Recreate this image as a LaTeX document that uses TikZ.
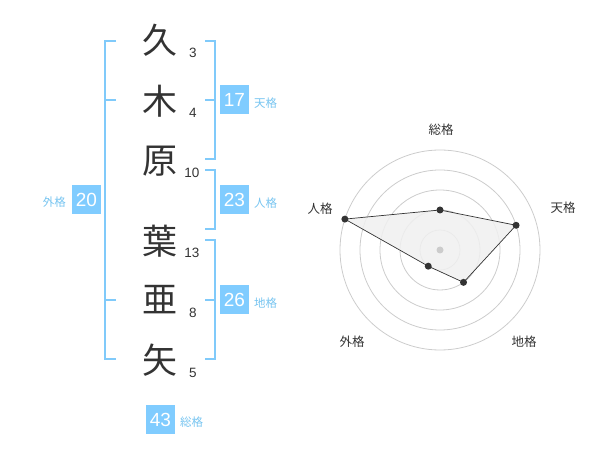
\documentclass[tikz,border=0pt]{standalone}
\usepackage{fontspec}
\setmainfont{Liberation Sans}
\newfontfamily\jp{Noto Sans CJK JP}
\definecolor{bbox}{RGB}{128,204,255}
\definecolor{bline}{RGB}{128,202,250}
\definecolor{btext}{RGB}{118,196,240}
\definecolor{ink}{RGB}{51,51,51}
\definecolor{ring}{RGB}{204,204,204}
\definecolor{polyfill}{RGB}{240,240,240}
\begin{document}
\begin{tikzpicture}[x=1pt,y=-1pt,
  kanji/.style={font=\jp\fontsize{35}{35}\selectfont, text=ink, inner sep=0pt},
  num/.style={font=\fontsize{13.5}{13.5}\selectfont, text=ink, inner sep=0pt},
  box/.style={fill=bbox, text=white, minimum size=29pt, inner sep=0pt, font=\fontsize{19}{19}\selectfont},
  lab/.style={font=\jp\fontsize{11.5}{11.5}\selectfont, text=btext, inner sep=0pt},
  rlab/.style={font=\jp\fontsize{12.5}{12.5}\selectfont, text=ink, inner sep=0pt},
  brk/.style={draw=bline, line width=2pt},
  dot/.style={circle, fill=ink, inner sep=0pt, minimum size=7pt}
]
\useasboundingbox (0,0) rectangle (600,470);

% kanji
\node[kanji] (k1) at (160,40) {久};
\node[kanji] (k2) at (160,101) {木};
\node[kanji] (k3) at (160,161) {原};
\node[kanji] (k4) at (160,241) {葉};
\node[kanji] (k5) at (160,300) {亜};
\node[kanji] (k6) at (160,360) {矢};

% stroke numbers
\node[num] (n1) at (193,53) {3};
\node[num] (n2) at (193,113) {4};
\node[num] (n3) at (192,173) {10};
\node[num] (n4) at (192,253) {13};
\node[num] (n5) at (193,313) {8};
\node[num] (n6) at (193,373) {5};

% left bracket (外格)
\draw[brk] (116,41) -- (105,41) -- (105,359) -- (116,359);
\draw[brk] (105,100) -- (116,100);
\draw[brk] (105,300) -- (116,300);

% right brackets
\draw[brk] (205,41) -- (215,41) -- (215,159) -- (205,159);
\draw[brk] (205,100) -- (215,100);
\draw[brk] (205,170) -- (215,170) -- (215,229) -- (205,229);
\draw[brk] (205,240) -- (215,240) -- (215,359) -- (205,359);
\draw[brk] (205,300) -- (215,300);

% boxes and labels
\node[box] (b20) at (86.5,200) {20};
\node[lab, anchor=east] (l20) at (66,202) {外格};
\node[box] (b17) at (234.5,100) {17};
\node[lab, anchor=west] (l17) at (254,103) {天格};
\node[box] (b23) at (234.5,200) {23};
\node[lab, anchor=west] (l23) at (254,203) {人格};
\node[box] (b26) at (234.5,300) {26};
\node[lab, anchor=west] (l26) at (254,303) {地格};
\node[box] (b43) at (160.5,419.5) {43};
\node[lab, anchor=west] (l43) at (180,422) {総格};

% radar chart
\begin{scope}[shift={(440,250)}, yscale=-1]
  \foreach \r in {20,40,60,80,100} \draw[ring, line width=0.8pt] (0,0) circle (\r);
  \coordinate (pS) at (90:40);
  \coordinate (pT) at (18:80);
  \coordinate (pC) at (-54:40);
  \coordinate (pG) at (-126:20);
  \coordinate (pJ) at (162:100);
  \filldraw[fill=polyfill, fill opacity=0.85, draw=ink, line width=0.7pt] (pS) -- (pT) -- (pC) -- (pG) -- (pJ) -- cycle;
  \node[circle, fill=ring, inner sep=0pt, minimum size=7pt] (ctr) at (0,0) {};
  \node[dot] (dS) at (pS) {};
  \node[dot] (dT) at (pT) {};
  \node[dot] (dC) at (pC) {};
  \node[dot] (dG) at (pG) {};
  \node[dot] (dJ) at (pJ) {};
\end{scope}
\node[rlab] (rS) at (441,130) {総格};
\node[rlab] (rT) at (563,208) {天格};
\node[rlab] (rJ) at (320,209) {人格};
\node[rlab] (rG) at (352,342) {外格};
\node[rlab] (rC) at (524,342) {地格};
\end{tikzpicture}
\end{document}
